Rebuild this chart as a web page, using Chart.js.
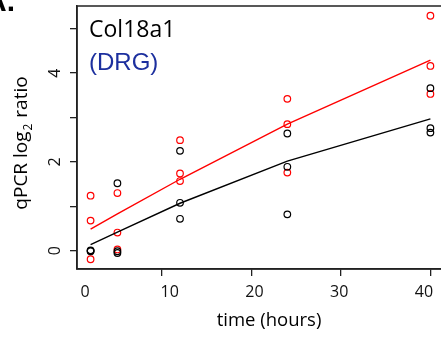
<!DOCTYPE html>
<html>
<head>
<meta charset="utf-8">
<script src="https://cdn.jsdelivr.net/npm/chart.js@4.4.1/dist/chart.umd.min.js"></script>
<style>
  html, body { margin: 0; padding: 0; background: #fff; overflow: hidden; }
  #wrap { width: 441px; height: 339px; overflow: hidden; }
  canvas { display: block; }
</style>
</head>
<body>
<div id="wrap"><canvas id="qpcrChart" width="460" height="339"></canvas></div>
<script>
const times = [2, 5, 12, 24, 40];

// three replicates per time point
const redA = [1.24, 1.30, 2.49, 3.42, 5.29];
const redB = [0.68, 0.41, 1.74, 2.85, 4.16];
const redC = [-0.19, 0.03, 1.57, 1.76, 3.53];
const blackA = [0.01, 1.52, 2.25, 2.64, 3.66];
const blackB = [0.00, -0.01, 1.08, 1.89, 2.76];
const blackC = [-0.01, -0.05, 0.72, 0.82, 2.66];

// smoothed fit lines
const redFit = [0.49, 0.83, 1.61, 2.85, 4.29];
const blackFit = [0.14, 0.42, 1.07, 2.02, 2.97];

const xTicks = [10, 20, 30, 40];
const xTickLabels = [0, 10, 20, 30, 40];
const yTicks = [0, 1, 2, 3, 4, 5];
const yTickLabels = [0, 2, 4];

const fontFamily = "'Open Sans', sans-serif";
const axisColor = '#222222';

function toPoints(ys) {
  return times.map((t, i) => ({ x: t, y: ys[i] }));
}

function pointSet(ys, color) {
  return {
    type: 'scatter',
    data: toPoints(ys),
    borderColor: color,
    backgroundColor: 'rgba(0,0,0,0)',
    borderWidth: 1.2,
    pointRadius: 3.3,
    showLine: false
  };
}

function fitSet(ys, color) {
  return {
    type: 'line',
    data: toPoints(ys),
    borderColor: color,
    borderWidth: 1.4,
    pointRadius: 0,
    tension: 0,
    fill: false
  };
}

// box, title texts and rotated y labels
const decorations = {
  id: 'decorations',
  afterDraw(chart) {
    const ctx = chart.ctx;
    const area = chart.chartArea;
    const yScale = chart.scales.y;
    ctx.save();

    ctx.strokeStyle = axisColor;
    ctx.lineWidth = 1.5;
    ctx.strokeRect(area.left, area.top, area.right - area.left, area.bottom - area.top);

    ctx.fillStyle = '#000';
    ctx.font = 'bold 30px "Liberation Sans", Arial, sans-serif';
    ctx.textAlign = 'left';
    ctx.textBaseline = 'alphabetic';
    ctx.fillText('A.', -15, 11);

    ctx.font = '23px ' + fontFamily;
    ctx.fillStyle = '#000';
    ctx.fillText('Col18a1', area.left + 12, 36.5);
    ctx.font = '24px "Liberation Sans", Arial, sans-serif';
    ctx.fillStyle = '#1c2f9e';
    ctx.fillText('(DRG)', area.left + 12, 70);

    // y tick labels, rotated like base R
    ctx.fillStyle = '#111';
    ctx.font = '16px ' + fontFamily;
    ctx.textAlign = 'center';
    ctx.textBaseline = 'middle';
    yTickLabels.forEach(v => {
      ctx.save();
      ctx.translate(55, yScale.getPixelForValue(v));
      ctx.rotate(-Math.PI / 2);
      ctx.fillText(String(v), 0, 0);
      ctx.restore();
    });

    // y title with subscript 2
    ctx.save();
    ctx.translate(27, 143.5);
    ctx.rotate(-Math.PI / 2);
    ctx.textAlign = 'left';
    ctx.textBaseline = 'alphabetic';
    const big = '19px ' + fontFamily;
    const small = '12px ' + fontFamily;
    ctx.font = big;
    const w1 = ctx.measureText('qPCR log').width;
    const w3 = ctx.measureText(' ratio').width;
    ctx.font = small;
    const w2 = ctx.measureText('2').width + 1;
    let x = -(w1 + w2 + w3) / 2;
    ctx.fillStyle = '#000';
    ctx.font = big;
    ctx.fillText('qPCR log', x, 0);
    x += w1 + 1;
    ctx.font = small;
    ctx.fillText('2', x, 5);
    x += w2;
    ctx.font = big;
    ctx.fillText(' ratio', x, 0);
    ctx.restore();

    ctx.font = '18.5px ' + fontFamily;
    ctx.textAlign = 'center';
    ctx.textBaseline = 'alphabetic';
    ctx.fillStyle = '#000';
    ctx.fillText('time (hours)', 269, 326);

    ctx.restore();
  }
};

new Chart(document.getElementById('qpcrChart').getContext('2d'), {
  data: {
    datasets: [
      fitSet(redFit, '#ff0000'),
      fitSet(blackFit, '#000000'),
      pointSet(blackA, '#000000'),
      pointSet(blackB, '#000000'),
      pointSet(blackC, '#000000'),
      pointSet(redA, '#ff0000'),
      pointSet(redB, '#ff0000'),
      pointSet(redC, '#ff0000')
    ]
  },
  options: {
    responsive: false,
    animation: false,
    layout: { padding: { top: 6, right: 16, left: 0, bottom: 0 } },
    plugins: {
      legend: { display: false },
      tooltip: { enabled: false }
    },
    scales: {
      x: {
        type: 'linear',
        position: 'bottom',
        weight: 0,
        min: 0.48,
        max: 41.52,
        grid: { drawOnChartArea: false, tickLength: 7, color: axisColor, lineWidth: 1.3 },
        border: { display: true, color: axisColor, width: 1.5 },
        ticks: { display: false },
        afterBuildTicks: s => { s.ticks = xTicks.map(v => ({ value: v })); },
        afterFit: s => { s.height = 8; }
      },
      // label row for the x axis, it sits a little offset from the tick marks
      xl: {
        type: 'linear',
        position: 'bottom',
        weight: 1,
        min: -0.94,
        max: 42.36,
        grid: { display: false, drawTicks: false },
        border: { display: false },
        ticks: {
          color: '#111',
          padding: 6,
          maxRotation: 0,
          font: { family: fontFamily, size: 16 }
        },
        afterBuildTicks: s => { s.ticks = xTickLabels.map(v => ({ value: v })); },
        afterFit: s => { s.height = 62; }
      },
      y: {
        type: 'linear',
        min: -0.41,
        max: 5.51,
        grid: { drawOnChartArea: false, tickLength: 7, color: axisColor, lineWidth: 1.3 },
        border: { display: true, color: axisColor, width: 1.5 },
        ticks: { display: false },
        afterBuildTicks: s => { s.ticks = yTicks.map(v => ({ value: v })); },
        afterFit: s => { s.width = 77; }
      }
    }
  },
  plugins: [decorations]
});
</script>
</body>
</html>
